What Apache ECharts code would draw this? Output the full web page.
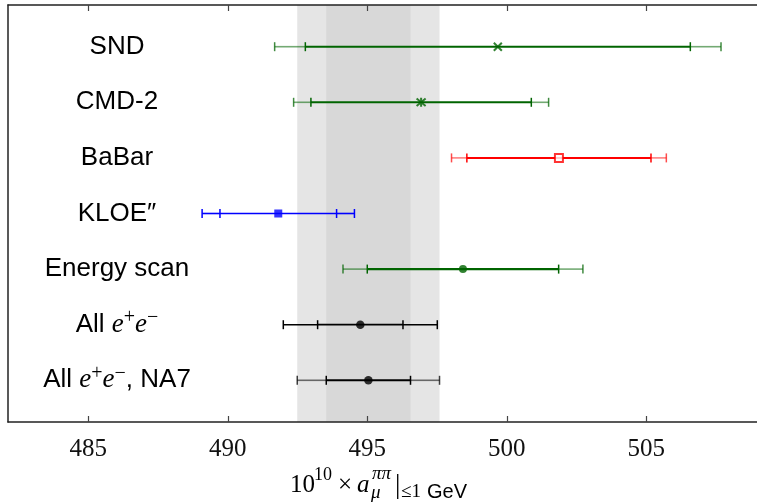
<!DOCTYPE html>
<html>
<head>
<meta charset="utf-8">
<script src="https://cdn.jsdelivr.net/npm/echarts@6/dist/echarts.min.js"></script>
<style>
html,body{margin:0;padding:0;background:#fff;}
#chart{width:757px;height:503px;}
</style>
</head>
<body>
<div id="chart"></div>
<script>
// ---- data ----
const categories = ['SND', 'CMD-2', 'BaBar', 'KLOE″', 'Energy scan', 'All e+e−', 'All e+e−, NA7'];
const centers   = [499.68, 496.93, 501.87, 491.81, 498.43, 494.75, 495.04];
const innerErr  = [6.90, 3.95, 3.30, 2.09, 3.43, 1.53, 1.51];
const outerErr  = [8.00, 4.57, 3.85, 2.73, 4.30, 2.76, 2.55];
const xTicks    = [485, 490, 495, 500, 505];
const bandRow   = 6; // grey bands show the "All e+e−, NA7" result

// ---- styles ----
const colors    = ['#006400', '#006400', '#ff0000', '#0000ff', '#006400', '#000000', '#000000'];
const outerAlpha = [0.55, 0.55, 0.5, 1, 0.55, 1, 0.55];
const innerWidth = [2, 2, 2, 1.4, 2.2, 1.8, 2];
const symbols = [
  'path://M0,0L10,10M10,0L0,10',
  'path://M0,0L10,10M10,0L0,10M5,-1L5,11',
  'emptyRect', 'rect', 'circle', 'circle', 'circle'
];
const symbolSizes = [8, 9, 8, 8, 8, 8.5, 8.5];

const chart = echarts.init(document.getElementById('chart'), null, {renderer: 'canvas'});

const errData = categories.map((c, i) => [i, centers[i], innerErr[i], outerErr[i]]);
const markerData = categories.map((c, i) => {
  const isPath = symbols[i].startsWith('path://');
  return {
    value: [centers[i], i],
    symbol: symbols[i],
    symbolSize: symbolSizes[i],
    itemStyle: isPath
      ? {color: 'rgba(0,0,0,0)', borderColor: colors[i], borderWidth: 2}
      : (symbols[i] === 'emptyRect'
          ? {color: colors[i], borderColor: colors[i], borderWidth: 1.6}
          : {color: colors[i]})
  };
});

const xMin = 482.122, xMax = 508.97;
const serif = '"Liberation Serif", "Times New Roman", serif';
const sans = '"Liberation Sans", Arial, sans-serif';

function fmtLabel(v) {
  const s = categories[v];
  if (s === undefined) return '';
  return s.replace('e+e−', '{it|e}{sup|+}{it|e}{sup|−}');
}

const option = {
  animation: false,
  backgroundColor: '#fff',
  grid: {left: 8, top: 5, right: -2, bottom: 81, containLabel: false},
  xAxis: [{
    type: 'value', position: 'bottom', min: xMin, max: xMax, z: 10,
    axisLine: {show: true, onZero: false, lineStyle: {color: '#222', width: 1.5}},
    axisTick: {show: true, inside: true, length: 6, customValues: xTicks, lineStyle: {color: '#444', width: 1.2}},
    axisLabel: {show: true, customValues: xTicks, margin: 15, fontFamily: serif, fontSize: 25, color: '#111'},
    splitLine: {show: false}
  }, {
    type: 'value', position: 'top', min: xMin, max: xMax, z: 10,
    axisLine: {show: true, onZero: false, lineStyle: {color: '#222', width: 1.5}},
    axisTick: {show: true, inside: true, length: 6, customValues: xTicks, lineStyle: {color: '#444', width: 1.2}},
    axisLabel: {show: false},
    splitLine: {show: false}
  }],
  yAxis: {
    type: 'value', inverse: true, min: -0.75, max: 6.75, z: 10,
    axisLine: {show: true, onZero: false, lineStyle: {color: '#222', width: 1.5}},
    axisTick: {show: false},
    splitLine: {show: false},
    axisLabel: {
      show: true, inside: true, align: 'center', margin: 109,
      customValues: categories.map((c, i) => i),
      formatter: fmtLabel,
      fontFamily: sans, fontSize: 26, color: '#000', lineHeight: 34,
      rich: {
        it: {fontFamily: serif, fontStyle: 'italic', fontSize: 27, color: '#000', lineHeight: 34},
        sup: {fontFamily: serif, fontSize: 20, color: '#000', verticalAlign: 'top', lineHeight: 18}
      }
    }
  },
  series: [{
    type: 'scatter', data: [], silent: true,
    markArea: {
      silent: true,
      data: [
        [{xAxis: centers[bandRow] - outerErr[bandRow], itemStyle: {color: '#e5e5e5'}}, {xAxis: centers[bandRow] + outerErr[bandRow]}],
        [{xAxis: centers[bandRow] - innerErr[bandRow], itemStyle: {color: '#d8d8d8'}}, {xAxis: centers[bandRow] + innerErr[bandRow]}]
      ]
    }
  }, {
    type: 'custom', z: 3,
    encode: {x: 1, y: 0},
    data: errData,
    renderItem: function (params, api) {
      const i = api.value(0), c = api.value(1), ie = api.value(2), oe = api.value(3);
      const pOL = api.coord([c - oe, i]);
      const pIL = api.coord([c - ie, i]);
      const pIR = api.coord([c + ie, i]);
      const pOR = api.coord([c + oe, i]);
      const y = pOL[1];
      const col = colors[i];
      const oa = outerAlpha[i];
      const capH = 4.5;
      const line = (x1, x2, w, op) => ({
        type: 'line', shape: {x1: x1, y1: y, x2: x2, y2: y},
        style: {stroke: col, lineWidth: w, opacity: op}
      });
      const cap = (x, w, op) => ({
        type: 'line', shape: {x1: x, y1: y - capH, x2: x, y2: y + capH},
        style: {stroke: col, lineWidth: w, opacity: op}
      });
      return {
        type: 'group',
        children: [
          line(pOL[0], pIL[0], 1.6, oa),
          line(pIR[0], pOR[0], 1.6, oa),
          line(pIL[0], pIR[0], innerWidth[i], 1),
          cap(pOL[0], 1.5, Math.min(1, oa + 0.2)),
          cap(pOR[0], 1.5, Math.min(1, oa + 0.2)),
          cap(pIL[0], 1.5, 1),
          cap(pIR[0], 1.5, 1)
        ]
      };
    }
  }, {
    type: 'scatter', z: 5,
    data: markerData
  }],
  graphic: [
    {type: 'text', style: {text: '10', x: 290, y: 485, font: '25px ' + serif, fill: '#000', verticalAlign: 'middle'}},
    {type: 'text', style: {text: '10', x: 314, y: 475, font: '18px ' + serif, fill: '#000', verticalAlign: 'middle'}},
    {type: 'text', style: {text: '×', x: 338, y: 485, font: '25px ' + serif, fill: '#000', verticalAlign: 'middle'}},
    {type: 'text', style: {text: 'a', x: 357, y: 485, font: 'italic 25px ' + serif, fill: '#000', verticalAlign: 'middle'}},
    {type: 'text', style: {text: 'ππ', x: 372, y: 474, font: 'italic 19px ' + serif, fill: '#000', verticalAlign: 'middle'}},
    {type: 'text', style: {text: 'μ', x: 371, y: 493, font: 'italic 19px ' + serif, fill: '#000', verticalAlign: 'middle'}},
    {type: 'text', style: {text: '|', x: 395, y: 486, font: '27px ' + serif, fill: '#000', verticalAlign: 'middle'}},
    {type: 'text', style: {text: '≤1', x: 401, y: 492, font: '19px ' + serif, fill: '#000', verticalAlign: 'middle'}},
    {type: 'text', style: {text: 'GeV', x: 427, y: 492, font: '20px ' + sans, fill: '#000', verticalAlign: 'middle'}}
  ]
};
chart.setOption(option);
</script>
</body>
</html>
